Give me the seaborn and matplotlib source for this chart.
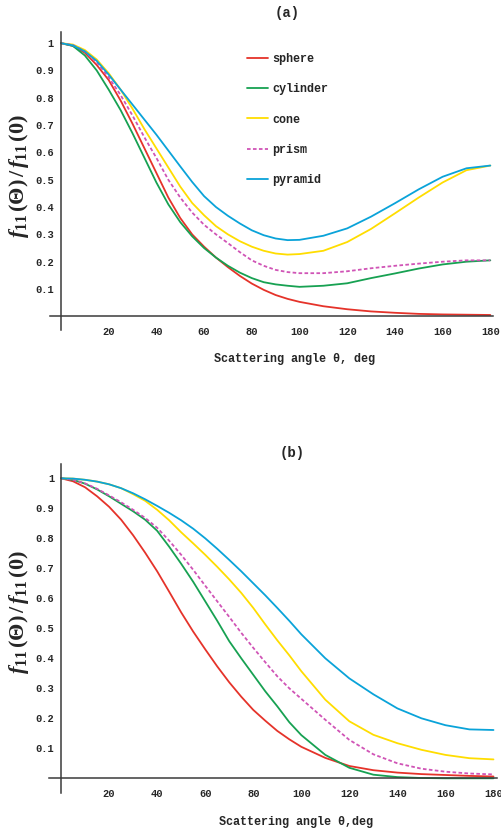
import pandas as pd
import matplotlib
matplotlib.use('Agg')
import matplotlib.pyplot as plt
import seaborn as sns

# Angles (deg)
theta = [0, 5, 10, 15, 20, 25, 30, 35, 40, 45, 50, 55, 60, 65, 70, 75, 80, 85,
         90, 95, 100, 110, 120, 130, 140, 150, 160, 170, 180]

# Panel (a)
sphere_a = [1.0, 0.99, 0.965, 0.92, 0.865, 0.79, 0.705, 0.615, 0.525, 0.435, 0.36, 0.30,
            0.255, 0.215, 0.18, 0.148, 0.12, 0.097, 0.078, 0.064, 0.053, 0.037, 0.026,
            0.018, 0.013, 0.009, 0.007, 0.006, 0.005]
cylinder_a = [1.0, 0.99, 0.955, 0.90, 0.83, 0.755, 0.67, 0.58, 0.49, 0.41, 0.345, 0.293,
              0.25, 0.215, 0.185, 0.16, 0.14, 0.125, 0.117, 0.112, 0.108, 0.112, 0.121,
              0.14, 0.157, 0.175, 0.19, 0.2, 0.205]
cone_a = [1.0, 0.995, 0.975, 0.94, 0.89, 0.83, 0.76, 0.685, 0.615, 0.545, 0.475, 0.415,
          0.37, 0.33, 0.30, 0.275, 0.255, 0.24, 0.23, 0.226, 0.228, 0.24, 0.272, 0.32,
          0.377, 0.435, 0.49, 0.535, 0.552]
prism_a = [1.0, 0.993, 0.97, 0.93, 0.875, 0.81, 0.735, 0.655, 0.58, 0.50, 0.435, 0.38,
           0.335, 0.30, 0.268, 0.235, 0.205, 0.185, 0.17, 0.162, 0.158, 0.158, 0.165,
           0.176, 0.185, 0.193, 0.2, 0.205, 0.205]
pyramid_a = [1.0, 0.992, 0.97, 0.935, 0.885, 0.83, 0.775, 0.72, 0.665, 0.607, 0.549, 0.492,
             0.44, 0.40, 0.368, 0.34, 0.315, 0.297, 0.285, 0.279, 0.28, 0.295, 0.322,
             0.365, 0.414, 0.465, 0.511, 0.542, 0.552]

# Panel (b)
sphere_b = [1.0, 0.99, 0.97, 0.94, 0.905, 0.862, 0.81, 0.752, 0.69, 0.622, 0.553, 0.489,
            0.43, 0.373, 0.32, 0.272, 0.228, 0.192, 0.158, 0.13, 0.105, 0.068, 0.041,
            0.027, 0.019, 0.014, 0.011, 0.008, 0.006]
cylinder_b = [1.0, 0.995, 0.982, 0.963, 0.94, 0.915, 0.89, 0.862, 0.825, 0.772, 0.715, 0.655,
              0.59, 0.525, 0.457, 0.40, 0.345, 0.29, 0.24, 0.187, 0.144, 0.078, 0.035,
              0.012, 0.004, 0.001, 0.0, 0.0, 0.0]
cone_b = [1.0, 0.999, 0.995, 0.989, 0.98, 0.967, 0.947, 0.925, 0.895, 0.86, 0.82, 0.783,
          0.745, 0.705, 0.663, 0.618, 0.568, 0.513, 0.46, 0.41, 0.357, 0.262, 0.19,
          0.145, 0.117, 0.095, 0.078, 0.067, 0.063]
prism_b = [1.0, 0.995, 0.983, 0.965, 0.943, 0.92, 0.895, 0.868, 0.835, 0.792, 0.745, 0.695,
           0.642, 0.59, 0.538, 0.485, 0.435, 0.387, 0.34, 0.3, 0.265, 0.195, 0.128, 0.08,
           0.05, 0.032, 0.022, 0.016, 0.013]
pyramid_b = [1.0, 0.999, 0.995, 0.989, 0.98, 0.967, 0.95, 0.93, 0.908, 0.885, 0.86, 0.832,
             0.80, 0.765, 0.728, 0.69, 0.65, 0.61, 0.568, 0.525, 0.48, 0.4, 0.333, 0.28,
             0.233, 0.2, 0.177, 0.163, 0.161]

shapes = ['sphere', 'cylinder', 'cone', 'prism', 'pyramid']
colors = {'sphere': '#e5332a', 'cylinder': '#17a152', 'cone': '#ffdd00',
          'prism': '#d054b6', 'pyramid': '#0aa3d9'}
dashes = {'sphere': '', 'cylinder': '', 'cone': '', 'prism': (2, 1.3), 'pyramid': ''}

x_ticks = [20, 40, 60, 80, 100, 120, 140, 160, 180]
y_ticks = [0.1, 0.2, 0.3, 0.4, 0.5, 0.6, 0.7, 0.8, 0.9, 1.0]
y_ticklabels = ['0.1', '0.2', '0.3', '0.4', '0.5', '0.6', '0.7', '0.8', '0.9', '1']


def long_df(series):
    rows = []
    for name, vals in zip(shapes, series):
        for t, v in zip(theta, vals):
            rows.append({'theta': t, 'f': v, 'shape': name})
    return pd.DataFrame(rows)


df_a = long_df([sphere_a, cylinder_a, cone_a, prism_a, pyramid_a])
df_b = long_df([sphere_b, cylinder_b, cone_b, prism_b, pyramid_b])

sns.set_style('white')
plt.rcParams['mathtext.fontset'] = 'custom'
plt.rcParams['mathtext.it'] = 'Liberation Serif:bold:italic'
plt.rcParams['mathtext.rm'] = 'Liberation Serif:bold'
plt.rcParams['mathtext.bf'] = 'Liberation Serif:bold'

mono = dict(family='Liberation Mono', weight='bold')
W, H = 501, 831

fig = plt.figure(figsize=(W / 100, H / 100), dpi=100)
ax_a = fig.add_axes([50 / W, 1 - 330 / H, 442.7 / W, 298.3 / H])
ax_b = fig.add_axes([49.3 / W, 1 - 793 / H, 447.3 / W, 328.8 / H])


def style_axis(ax, xlim, ylim):
    ax.set_xlim(*xlim)
    ax.set_ylim(*ylim)
    for s in ['top', 'right']:
        ax.spines[s].set_visible(False)
    ax.spines['left'].set_position(('data', 0))
    ax.spines['bottom'].set_position(('data', 0))
    for s in ['left', 'bottom']:
        ax.spines[s].set_color('#3a3a3a')
        ax.spines[s].set_linewidth(1.1)
    ax.set_xticks(x_ticks)
    ax.set_xticklabels([str(t) for t in x_ticks], fontdict=mono, fontsize=7.5)
    ax.set_yticks(y_ticks)
    ax.set_yticklabels(y_ticklabels, fontdict=mono, fontsize=7.5)
    ax.tick_params(axis='x', direction='in', length=3, width=0.8, color='#3a3a3a', pad=8)
    ax.tick_params(axis='y', direction='out', length=3, width=0.8, color='#3a3a3a', pad=2)
    ax.set_xlabel('')
    ax.set_ylabel('')


sns.lineplot(data=df_a, x='theta', y='f', hue='shape', style='shape', hue_order=shapes,
             style_order=shapes, palette=colors, dashes=dashes, linewidth=1.3, ax=ax_a)
sns.lineplot(data=df_b, x='theta', y='f', hue='shape', style='shape', hue_order=shapes,
             style_order=shapes, palette=colors, dashes=dashes, linewidth=1.3,
             legend=False, ax=ax_b)

style_axis(ax_a, (-4.6, 181), (-0.05, 1.042))
style_axis(ax_b, (-4.9, 181.3), (-0.049, 1.047))

# Legend for panel (a)
handles, labels = ax_a.get_legend_handles_labels()
ax_a.legend(handles, labels, loc='upper left', bbox_to_anchor=(247 / W, 1 - 53 / H),
            bbox_transform=fig.transFigure, frameon=False, borderpad=0, borderaxespad=0,
            prop=dict(family='Liberation Mono', weight='bold', size=8.5),
            handlelength=1.75, handletextpad=0.4, labelspacing=1.55)

# Titles and axis labels
fig.text(287 / W, 1 - 13 / H, '(a)', ha='center', va='center', fontsize=10, **mono)
fig.text(292 / W, 1 - 453 / H, '(b)', ha='center', va='center', fontsize=10, **mono)
fig.text(295 / W, 1 - 359 / H, 'Scattering angle \u03b8, deg', ha='center', va='center',
         fontsize=8.5, **mono)
fig.text(296 / W, 1 - 822 / H, 'Scattering angle \u03b8,deg', ha='center', va='center',
         fontsize=8.5, **mono)
ylab = r'$f_{\mathit{11}}\,(\Theta)\,/\,f_{\mathit{11}}\,(\mathit{0})$'
fig.text(19 / W, 1 - 176 / H, ylab, ha='center', va='center', rotation=90, fontsize=16)
fig.text(19 / W, 1 - 612 / H, ylab, ha='center', va='center', rotation=90, fontsize=16)

plt.savefig('out.png', dpi=100)
plt.close()
